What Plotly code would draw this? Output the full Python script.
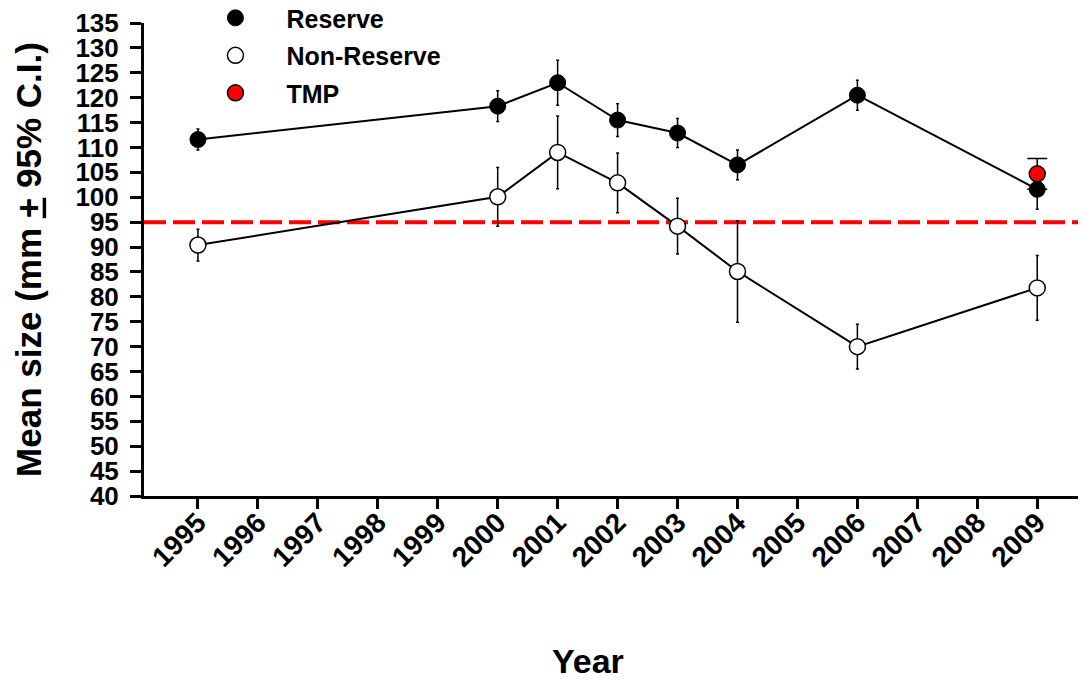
import plotly.graph_objects as go

# Mean size by year with 95% confidence intervals
years = [1995, 2000, 2001, 2002, 2003, 2004, 2006, 2009]
reserve_mean = [111.6, 118.3, 123.0, 115.5, 112.9, 106.5, 120.5, 101.6]
reserve_ci = [2.1, 3.1, 4.5, 3.3, 2.9, 3.0, 3.0, 4.0]
nonreserve_mean = [90.4, 100.1, 109.0, 102.9, 94.2, 85.1, 70.0, 81.8]
nonreserve_ci = [3.2, 5.9, 7.3, 6.0, 5.6, 10.2, 4.5, 6.5]
tmp_year = [2009]
tmp_mean = [104.7]
tmp_ci = [3.1]
threshold = 95
tick_years = list(range(1995, 2010))
y_ticks = list(range(40, 140, 5))

FONT = "Liberation Sans, Arial, sans-serif"

reserve_marker = dict(size=16, color="black", line=dict(color="black", width=1))
nonreserve_marker = dict(size=16, color="white", line=dict(color="black", width=1.5))
tmp_marker = dict(size=16, color="#ff0000", line=dict(color="black", width=1.5))

fig = go.Figure()

fig.add_trace(go.Scatter(
    x=years, y=reserve_mean, name="Reserve", mode="lines+markers",
    line=dict(color="black", width=2), marker=reserve_marker,
    error_y=dict(type="data", array=reserve_ci, color="black", thickness=1.5, width=1.5),
    showlegend=False,
))
fig.add_trace(go.Scatter(
    x=years, y=nonreserve_mean, name="Non-Reserve", mode="lines+markers",
    line=dict(color="black", width=2), marker=nonreserve_marker,
    error_y=dict(type="data", array=nonreserve_ci, color="black", thickness=1.5, width=1.5),
    showlegend=False,
))
fig.add_trace(go.Scatter(
    x=tmp_year, y=tmp_mean, name="TMP", mode="markers", marker=tmp_marker,
    error_y=dict(type="data", array=tmp_ci, color="black", thickness=1.5, width=10),
    showlegend=False,
))

# symbol-only legend entries
for label, mk, grp in [("Reserve", reserve_marker, "a"),
                       ("Non-Reserve", nonreserve_marker, "b"),
                       ("TMP", tmp_marker, "c")]:
    fig.add_trace(go.Scatter(x=[None], y=[None], mode="markers", marker=mk,
                             name=f"<b>{label}</b>", legendgroup=grp, showlegend=True))

fig.add_shape(type="line", xref="paper", x0=0, x1=1, yref="y", y0=threshold, y1=threshold,
              line=dict(color="#ff0000", width=4, dash="22px,7px"), layer="below")

fig.add_annotation(text="<b>Year</b>", xref="paper", yref="paper", x=(588 - 144) / 934, y=-0.348,
                   xanchor="center", yanchor="middle", showarrow=False,
                   font=dict(family=FONT, size=34, color="black"))

fig.update_layout(
    width=1082, height=680,
    margin=dict(l=144, r=4, t=23, b=184, autoexpand=False),
    paper_bgcolor="white", plot_bgcolor="white",
    font=dict(family=FONT, color="black"),
    showlegend=True,
    legend=dict(x=0.0433, y=1.059, xanchor="left", yanchor="top",
                font=dict(family=FONT, size=25, color="black"),
                bgcolor="rgba(0,0,0,0)", itemwidth=92, tracegroupgap=2),
    xaxis=dict(range=[1994.1, 2009.68], tickmode="array", tickvals=tick_years,
               ticktext=[f"<b>{y}</b>" for y in tick_years], tickangle=-45,
               ticks="outside", ticklen=10, tickwidth=2.5, tickcolor="black",
               ticklabelstandoff=-14,
               showline=True, linecolor="black", linewidth=3, showgrid=False, zeroline=False,
               tickfont=dict(family=FONT, size=28, color="black")),
    yaxis=dict(range=[40, 135], tickmode="array", tickvals=y_ticks,
               ticktext=[f"<b>{v}</b>" for v in y_ticks],
               ticks="outside", ticklen=11, tickwidth=2.5, tickcolor="black",
               ticklabelstandoff=6,
               showline=True, linecolor="black", linewidth=3, showgrid=False, zeroline=False,
               tickfont=dict(family=FONT, size=26, color="black"),
               title=dict(text="<b>Mean size (mm <u>+</u> 95% C.I.)</b>",
                          font=dict(family=FONT, size=35, color="black"), standoff=24)),
)

fig.write_html("out.html")
